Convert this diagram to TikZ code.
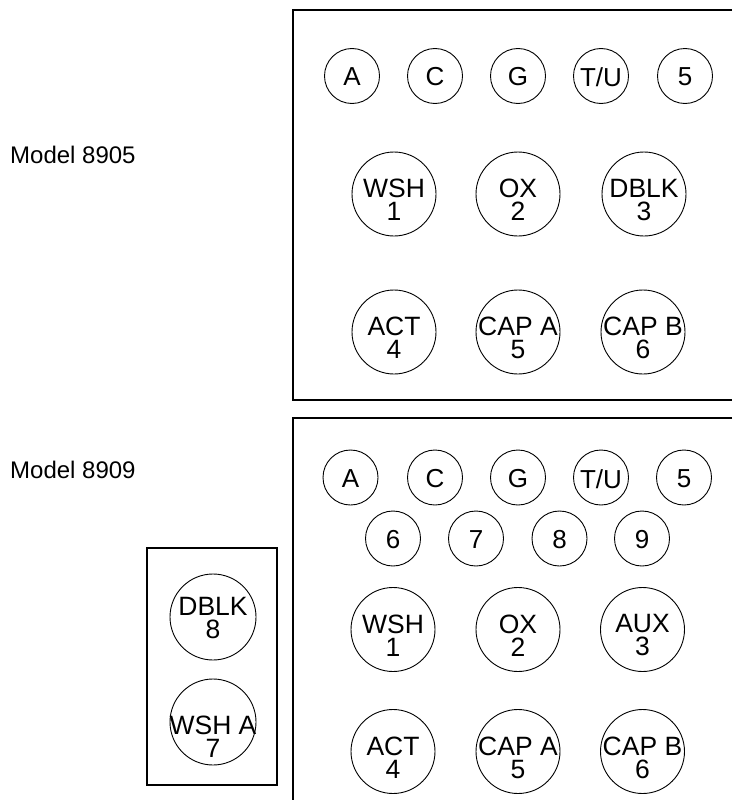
\documentclass[tikz,border=0pt]{standalone}
\usepackage{fontspec}
\setmainfont{Liberation Sans}
\begin{document}
\begin{tikzpicture}[x=1pt,y=-1pt,
  frame/.style={line width=2pt},
  smallc/.style={circle,draw,line width=0.9pt,minimum size=55pt,inner sep=0pt},
  bigc/.style={circle,draw,line width=0.9pt,minimum size=84pt,inner sep=0pt},
  sidec/.style={circle,draw,line width=0.9pt,minimum size=86pt,inner sep=0pt},
  smalltxt/.style={font=\fontsize{26}{23}\selectfont,inner sep=0pt},
  bigtxt/.style={font=\fontsize{26.5}{23}\selectfont,align=center,inner sep=0pt},
  modeltxt/.style={font=\fontsize{24}{26}\selectfont,anchor=west,inner sep=0pt}]
\useasboundingbox (0,0) rectangle (732,800);
% frames
\coordinate (t1) at (732,10);
\coordinate (t2) at (293,10);
\coordinate (t3) at (293,400);
\coordinate (t4) at (732,400);
\draw[frame] (t1) -- (t2) -- (t3) -- (t4);
\coordinate (b1) at (732,418);
\coordinate (b2) at (293,418);
\coordinate (b3) at (293,800);
\draw[frame] (b1) -- (b2) -- (b3);
\coordinate (s1) at (147,548);
\coordinate (s2) at (277,785);
\draw[frame] (s1) rectangle (s2);
% labels
\node[modeltxt] (m1) at (10,155) {Model 8905};
\node[modeltxt] (m2) at (10,470) {Model 8909};
% top box small row
\foreach \n/\x/\t in {a/352/A,c/435/C,g/518/G,tu/601/{T/U},f/685/5}{
  \node[smallc] (T\n) at (\x,76) {};
  \node[smalltxt] (TT\n) at ([yshift=-1pt]T\n) {\t};
}
% top box big rows
\foreach \n/\x/\t in {w/394/WSH\\1,o/518/OX\\2,d/644/DBLK\\3}{
  \node[bigc] (T\n) at (\x,194) {};
  \node[bigtxt] (TT\n) at ([yshift=-6pt]T\n) {\t};
}
\foreach \n/\x/\t in {act/394/ACT\\4,ca/518/CAP A\\5,cb/643/CAP B\\6}{
  \node[bigc] (T\n) at (\x,332) {};
  \node[bigtxt] (TT\n) at ([yshift=-6pt]T\n) {\t};
}
% bottom box small rows
\foreach \n/\x/\t in {a/350.5/A,c/435/C,g/518/G,tu/601/{T/U},f/684/5}{
  \node[smallc] (B\n) at (\x,477.5) {};
  \node[smalltxt] (BT\n) at ([yshift=-1.5pt]B\n) {\t};
}
\foreach \n/\x in {6/393,7/476,8/559.5,9/642}{
  \node[smallc] (Bn\n) at (\x,538.5) {};
  \node[smalltxt] (BTn\n) at ([yshift=-1pt]Bn\n) {\n};
}
% bottom box big rows
\foreach \n/\x/\t in {w/393/WSH\\1,o/518/OX\\2,x/642.5/AUX\\3}{
  \node[bigc] (B\n) at (\x,629.5) {};
  \node[bigtxt] (BT\n) at ([yshift=-6pt]B\n) {\t};
}
\foreach \n/\x/\t in {act/393/ACT\\4,ca/518/CAP A\\5,cb/642.5/CAP B\\6}{
  \node[bigc] (B\n) at (\x,751.5) {};
  \node[bigtxt] (BT\n) at ([yshift=-6pt]B\n) {\t};
}
% side box
\node[sidec] (Sd) at (213,617) {};
\node[bigtxt] (STd) at ([yshift=-1pt]Sd) {DBLK\\8};
\node[sidec] (Sw) at (213,722) {};
\node[bigtxt] (STw) at ([yshift=-15pt]Sw) {WSH A\\7};
\end{tikzpicture}
\end{document}
